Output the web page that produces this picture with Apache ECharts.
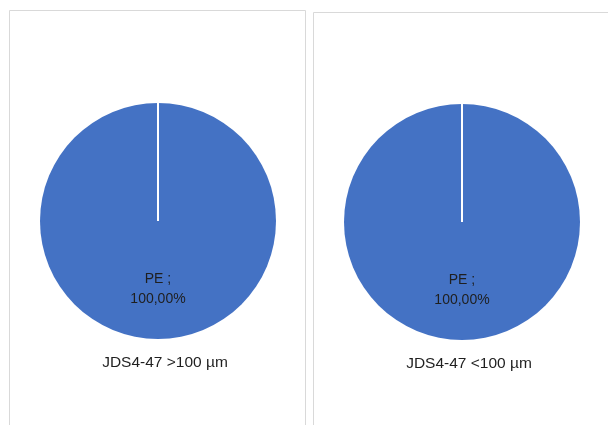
<!DOCTYPE html>
<html>
<head>
<meta charset="utf-8">
<script src="https://cdn.jsdelivr.net/npm/echarts@6/dist/echarts.min.js"></script>
<style>html,body{margin:0;padding:0;background:#fff}#c{width:608px;height:425px}</style>
</head>
<body>
<div id="c"></div>
<script>
// Data
var chartTitles = ['JDS4-47 >100 µm', 'JDS4-47 <100 µm'];
var categories = ['PE'];
var valuesLeft = [100];
var valuesRight = [100];

// Layout
var pies = [
  { cx: 158, cy: 221, r: 118, titleX: 165, titleY: 363, values: valuesLeft, title: chartTitles[0] },
  { cx: 462, cy: 222, r: 118, titleX: 469, titleY: 364, values: valuesRight, title: chartTitles[1] }
];
var FONT = '"Liberation Sans", Arial, sans-serif';

var chart = echarts.init(document.getElementById('c'), null, { renderer: 'canvas' });

var series = pies.map(function (p) {
  return {
    type: 'pie',
    center: [p.cx, p.cy],
    radius: [0, p.r],
    startAngle: 90,
    clockwise: true,
    silent: true,
    animation: false,
    itemStyle: { color: '#4472C4', borderWidth: 0 },
    label: {
      show: true,
      position: 'inside',
      fontFamily: FONT,
      fontSize: 14,
      lineHeight: 20,
      color: '#1f1f1f',
      offset: [0, 6],
      formatter: function (prm) {
        return prm.name + ' ;\n' + prm.percent.toFixed(2).replace('.', ',') + '%';
      }
    },
    labelLine: { show: false },
    data: categories.map(function (c, i) { return { name: c, value: p.values[i] }; })
  };
});

var graphics = [
  { type: 'rect', shape: { x: 9.5, y: 10.5, width: 296, height: 430 }, style: { fill: 'none', stroke: '#d9d9d9', lineWidth: 1 }, z: 0 },
  { type: 'rect', shape: { x: 313.5, y: 12.5, width: 310, height: 430 }, style: { fill: 'none', stroke: '#d9d9d9', lineWidth: 1 }, z: 0 }
];
pies.forEach(function (p) {
  graphics.push({
    type: 'line',
    shape: { x1: p.cx, y1: p.cy - p.r - 1, x2: p.cx, y2: p.cy },
    style: { stroke: '#ffffff', lineWidth: 2 },
    z: 100
  });
  graphics.push({
    type: 'text',
    x: p.titleX, y: p.titleY,
    style: { text: p.title, font: '15.5px ' + FONT, fill: '#1f1f1f', align: 'center', verticalAlign: 'middle' },
    z: 100
  });
});

chart.setOption({
  backgroundColor: '#ffffff',
  animation: false,
  series: series,
  graphic: graphics
});
</script>
</body>
</html>
